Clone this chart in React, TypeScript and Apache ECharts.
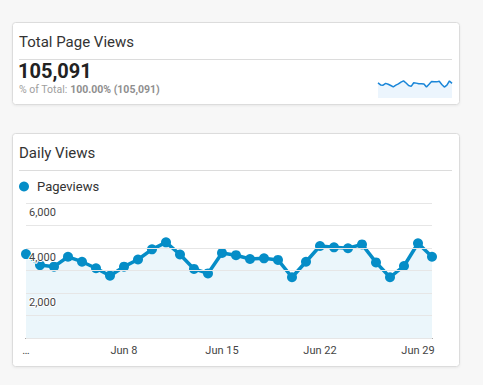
import React, { useEffect, useRef } from "react";
import * as echarts from "echarts";

const days: string[] = [
  "Jun 1", "Jun 2", "Jun 3", "Jun 4", "Jun 5", "Jun 6", "Jun 7", "Jun 8", "Jun 9", "Jun 10",
  "Jun 11", "Jun 12", "Jun 13", "Jun 14", "Jun 15", "Jun 16", "Jun 17", "Jun 18", "Jun 19", "Jun 20",
  "Jun 21", "Jun 22", "Jun 23", "Jun 24", "Jun 25", "Jun 26", "Jun 27", "Jun 28", "Jun 29", "Jun 30",
];
const pageviews: number[] = [
  3730, 3240, 3170, 3610, 3390, 3100, 2770, 3170, 3490, 3940,
  4250, 3710, 3070, 2870, 3780, 3680, 3510, 3540, 3470, 2700,
  3390, 4090, 4030, 3990, 4160, 3360, 2700, 3200, 4210, 3610,
];
const totalViews = "105,091";
const percentText = "100.00% (105,091)";
const yTicks: number[] = [0, 1000, 2000, 3000, 4000, 5000, 6000];

const BLUE = "#058dc7";
const FONT = "Roboto, 'Noto Sans', sans-serif";

export default function App() {
  const ref = useRef<HTMLDivElement>(null);
  useEffect(() => {
    document.body.style.margin = "0";
    const chart = echarts.init(ref.current!, null, { renderer: "svg" });
    chart.setOption({
      animation: false,
      backgroundColor: "#f7f7f7",
      textStyle: { fontFamily: FONT },
      legend: {
        data: ["Pageviews"],
        left: 19,
        top: 180,
        padding: 0,
        icon: "circle",
        itemWidth: 10,
        itemHeight: 10,
        selectedMode: false,
        textStyle: { fontSize: 13, color: "#333", fontFamily: FONT, padding: [0, 0, 0, 3] },
      },
      graphic: [
        {
          type: "rect",
          z: -10,
          shape: { x: 12.5, y: 22.5, width: 447, height: 82, r: 3 },
          style: { fill: "#fff", stroke: "#dcdcdc", lineWidth: 1, shadowColor: "rgba(0,0,0,0.06)", shadowBlur: 2, shadowOffsetY: 1 },
        },
        {
          type: "text",
          left: 19,
          top: 34,
          style: { text: "Total Page Views", font: `15px ${FONT}`, fill: "#333" },
        },
        {
          type: "line",
          shape: { x1: 19, y1: 59.5, x2: 452, y2: 59.5 },
          style: { stroke: "#dcdcdc", lineWidth: 1 },
        },
        {
          type: "text",
          left: 18,
          top: 61,
          style: { text: totalViews, font: `bold 20px ${FONT}`, fill: "#222" },
        },
        {
          type: "text",
          left: 19,
          top: 84,
          style: {
            text: "{a|% of Total: }{b|" + percentText + "}",
            rich: {
              a: { fontSize: 10.5, fill: "#9e9e9e", fontFamily: FONT },
              b: { fontSize: 10.5, fill: "#8f8f8f", fontWeight: "bold", fontFamily: FONT },
            },
          },
        },
        {
          type: "rect",
          z: -10,
          shape: { x: 12.5, y: 133.5, width: 447, height: 233, r: 3 },
          style: { fill: "#fff", stroke: "#dcdcdc", lineWidth: 1, shadowColor: "rgba(0,0,0,0.06)", shadowBlur: 2, shadowOffsetY: 1 },
        },
        {
          type: "text",
          left: 19,
          top: 145,
          style: { text: "Daily Views", font: `15px ${FONT}`, fill: "#333" },
        },
        {
          type: "line",
          shape: { x1: 19, y1: 170.5, x2: 452, y2: 170.5 },
          style: { stroke: "#dcdcdc", lineWidth: 1 },
        },
      ],
      grid: [
        { left: 26, right: 51, top: 203, bottom: 47 },
        { left: 378, right: 31, top: 79, bottom: 287 },
      ],
      xAxis: [
        {
          type: "category",
          gridIndex: 0,
          data: days,
          boundaryGap: false,
          axisLine: { lineStyle: { color: "#333", width: 1 } },
          axisTick: { show: false },
          axisLabel: {
            interval: (i: number) => i % 7 === 0,
            formatter: (v: string, i: number) => (i === 0 ? "…" : v),
            fontSize: 11,
            color: "#444",
            margin: 7,
            fontFamily: FONT,
          },
          splitLine: { show: false },
        },
        {
          type: "category",
          gridIndex: 1,
          data: days,
          boundaryGap: false,
          show: false,
        },
      ],
      yAxis: [
        {
          type: "value",
          gridIndex: 0,
          min: yTicks[0],
          max: yTicks[yTicks.length - 1],
          interval: 1000,
          axisLine: { show: false },
          axisTick: { show: false },
          splitLine: { lineStyle: { color: "#e6e6e6", width: 1 } },
          axisLabel: {
            inside: true,
            margin: 3,
            verticalAlign: "top",
            padding: [4, 0, 0, 0],
            fontSize: 11,
            color: "#444",
            fontFamily: FONT,
            textBorderColor: "#fff",
            textBorderWidth: 2,
            formatter: (v: number) => (v > 0 && v % 2000 === 0 ? v.toLocaleString("en-US") : ""),
          },
          z: 5,
        },
        {
          type: "value",
          gridIndex: 1,
          min: 0,
          max: 4700,
          show: false,
          splitLine: { show: false },
        },
      ],
      series: [
        {
          name: "Pageviews",
          type: "line",
          xAxisIndex: 0,
          yAxisIndex: 0,
          data: pageviews,
          color: BLUE,
          symbol: "circle",
          symbolSize: 10,
          showSymbol: true,
          showAllSymbol: true,
          lineStyle: { color: BLUE, width: 3.5 },
          itemStyle: { color: BLUE },
          areaStyle: { color: "rgba(5,141,199,0.11)" },
        },
        {
          name: "spark",
          type: "line",
          xAxisIndex: 1,
          yAxisIndex: 1,
          data: pageviews,
          symbol: "none",
          lineStyle: { color: "#1a86d8", width: 1.5 },
          areaStyle: { color: "rgba(30,136,229,0.12)" },
        },
      ],
    });
    return () => chart.dispose();
  }, []);
  return <div ref={ref} style={{ width: 483, height: 385 }} />;
}
